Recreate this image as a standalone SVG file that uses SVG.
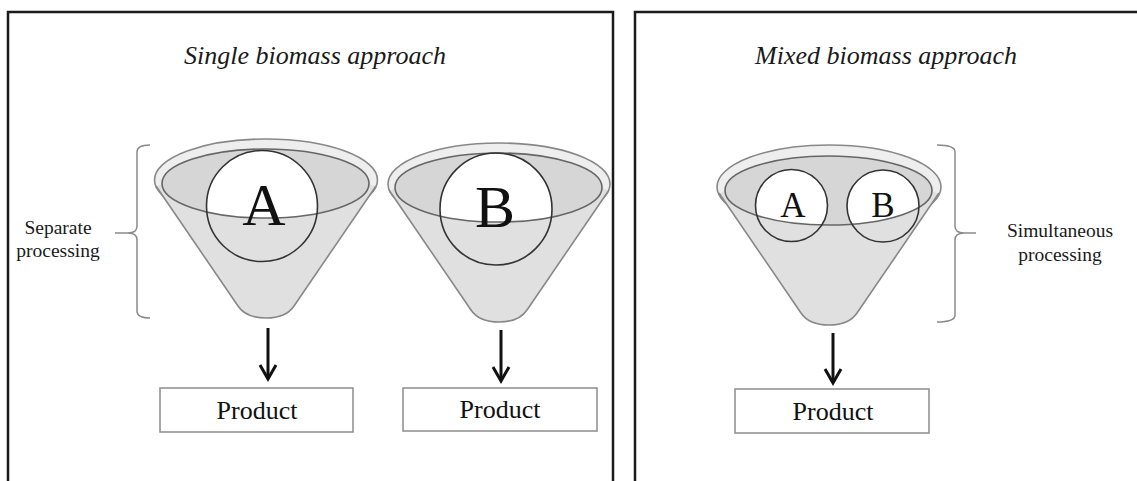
<svg xmlns="http://www.w3.org/2000/svg" width="1137" height="481" viewBox="0 0 1137 481">
<style>
.panel{fill:none;stroke:#1a1a1a;stroke-width:2.5}
.title{font-family:"Liberation Serif",serif;font-style:italic;font-size:26px;fill:#1a1a1a;text-anchor:middle}
.lbl{font-family:"Liberation Serif",serif;font-size:19.5px;fill:#1a1a1a;text-anchor:middle}
.prod{font-family:"Liberation Serif",serif;font-size:26px;fill:#111;text-anchor:middle}
.big{font-family:"Liberation Serif",serif;font-size:60px;fill:#111;text-anchor:middle}
.mid{font-family:"Liberation Serif",serif;font-size:35px;fill:#111;text-anchor:middle}
.conefill{fill:#e0e0e0;stroke:none}
.coneline{fill:none;stroke:#888;stroke-width:1.6}
.rim{fill:#eeeeee;stroke:#888;stroke-width:1.6}
.inner{fill:#d6d6d6;stroke:none}
.innerline{fill:none;stroke:#666;stroke-width:1.6}
.ballfill{fill:#ffffff;stroke:none}
.ball{fill:none;stroke:#333;stroke-width:1.6}
.box{fill:#fff;stroke:#8c8c8c;stroke-width:1.5}
.brace{fill:none;stroke:#8a8a8a;stroke-width:1.5}
.arrow{fill:none;stroke:#111;stroke-width:3;marker-end:url(#head)}
</style>
<defs>
<marker id="head" markerUnits="userSpaceOnUse" orient="auto" refX="0" refY="0" markerWidth="20" markerHeight="20" overflow="visible">
<path d="M-14,-8 L0,0 L-14,8" fill="none" stroke="#111" stroke-width="3"/>
</marker>
<path id="coneFill" d="M-110,6 L-28,126 C-22,135 -12,138 0,138 C12,138 22,135 28,126 L110,6 Z"/>
<path id="coneSides" d="M-110,6 L-28,126 C-22,135 -12,138 0,138 C12,138 22,135 28,126 L110,6"/>
<path id="frontWall" d="M-104,3.5 A103.5 34.5 0 0 0 103,3.5 L109.3,7 L28,126 C22,135 12,138 0,138 C-12,138 -22,135 -28,126 L-109.3,7 Z"/>
<ellipse id="innerEl" cx="-0.5" cy="3.5" rx="103.5" ry="34.5"/>
</defs>

<g id="panel-single">
<rect class="panel" x="8" y="12" width="605" height="490"/>
<text class="title" x="315" y="64">Single biomass approach</text>
</g>
<g id="panel-mixed">
<rect class="panel" x="635" y="12" width="520" height="490"/>
<text class="title" x="886" y="64">Mixed biomass approach</text>
</g>

<g id="funnel-A" transform="translate(266,180)">
<ellipse class="rim" cx="0" cy="0" rx="111.5" ry="41"/>
<use href="#coneFill" class="conefill"/>
<use href="#innerEl" class="inner"/>
<circle class="ballfill" cx="-4" cy="26" r="55.5"/>
<use href="#frontWall" class="conefill"/>
<use href="#coneSides" class="coneline"/>
<use href="#innerEl" class="innerline"/>
<circle class="ball" cx="-4" cy="26" r="55.5"/>
<text class="big" x="-2" y="45">A</text>
</g>

<g id="funnel-B" transform="translate(499,184)">
<ellipse class="rim" cx="0" cy="0" rx="111" ry="41"/>
<use href="#coneFill" class="conefill"/>
<use href="#innerEl" class="inner"/>
<circle class="ballfill" cx="-3" cy="25" r="56"/>
<use href="#frontWall" class="conefill"/>
<use href="#coneSides" class="coneline"/>
<use href="#innerEl" class="innerline"/>
<circle class="ball" cx="-3" cy="25" r="56"/>
<text class="big" x="-4" y="43">B</text>
</g>

<g id="funnel-AB" transform="translate(829,187)">
<ellipse class="rim" cx="0" cy="0" rx="112" ry="42"/>
<use href="#coneFill" class="conefill"/>
<use href="#innerEl" class="inner"/>
<circle class="ballfill" cx="-37.5" cy="18.5" r="36"/>
<circle class="ballfill" cx="54" cy="19" r="36"/>
<use href="#frontWall" class="conefill"/>
<use href="#coneSides" class="coneline"/>
<use href="#innerEl" class="innerline"/>
<circle class="ball" cx="-37.5" cy="18.5" r="36"/>
<circle class="ball" cx="54" cy="19" r="36"/>
<text class="mid" x="-36" y="30">A</text>
<text class="mid" x="54" y="30">B</text>
</g>

<g id="brace-separate">
<path class="brace" d="M150,145 Q137,145 137,152 L137,226 Q137,233 128,233 L115,233 M128,233 Q137,233 137,240 L137,311 Q137,318 150,318"/>
<text class="lbl" x="58" y="234">Separate</text>
<text class="lbl" x="58" y="257">processing</text>
</g>

<g id="brace-simultaneous">
<path class="brace" d="M937,145 Q955,145 955,152 L955,226 Q955,233 964,233 L976,233 M964,233 Q955,233 955,240 L955,315 Q955,322 937,322"/>
<text class="lbl" x="1060" y="237">Simultaneous</text>
<text class="lbl" x="1060" y="261">processing</text>
</g>

<g id="product-A">
<rect class="box" x="160" y="388" width="193" height="44"/>
<text class="prod" x="257" y="419">Product</text>
</g>
<g id="product-B">
<rect class="box" x="403" y="388" width="194" height="43"/>
<text class="prod" x="500" y="418">Product</text>
</g>
<g id="product-AB">
<rect class="box" x="735" y="389" width="194" height="44"/>
<text class="prod" x="833" y="420">Product</text>
</g>

<g id="connectors">
<line class="arrow" x1="268" y1="328" x2="268" y2="379"/>
<line class="arrow" x1="501" y1="330" x2="501" y2="381"/>
<line class="arrow" x1="833" y1="333" x2="833" y2="383"/>
</g>
</svg>
